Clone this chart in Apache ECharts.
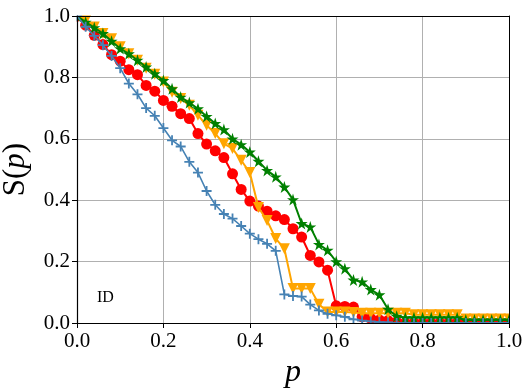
<!DOCTYPE html>
<html>
<head>
<meta charset="utf-8">
<script src="https://cdn.jsdelivr.net/npm/echarts@6.0.0/dist/echarts.min.js"></script>
<style>
  html, body { margin: 0; padding: 0; background: #fff; }
  #main { width: 531px; height: 391px; }
</style>
</head>
<body>
<div id="main"></div>
<script>
// p values (x axis)
var pVals = [0.00, 0.02, 0.04, 0.06, 0.08, 0.10, 0.12, 0.14, 0.16, 0.18,
             0.20, 0.22, 0.24, 0.26, 0.28, 0.30, 0.32, 0.34, 0.36, 0.38,
             0.40, 0.42, 0.44, 0.46, 0.48, 0.50, 0.52, 0.54, 0.56, 0.58,
             0.60, 0.62, 0.64, 0.66, 0.68, 0.70, 0.72, 0.74, 0.76, 0.78,
             0.80, 0.82, 0.84, 0.86, 0.88, 0.90, 0.92, 0.94, 0.96, 0.98, 1.00];

// S(p) for each curve
var blueS = [1.0, 0.965, 0.935, 0.905, 0.87, 0.83, 0.78, 0.745, 0.70, 0.675,
             0.635, 0.595, 0.575, 0.525, 0.49, 0.43, 0.385, 0.355, 0.34, 0.316,
             0.291, 0.273, 0.258, 0.235, 0.093, 0.088, 0.086, 0.06, 0.041, 0.03,
             0.025, 0.02, 0.012, 0.008, 0.005, 0.003, 0.002, 0, 0, 0,
             0, 0, 0, 0, 0, 0, 0, 0, 0, 0, 0];
var redS = [1.0, 0.97, 0.937, 0.907, 0.874, 0.853, 0.825, 0.809, 0.774, 0.755,
            0.725, 0.706, 0.682, 0.666, 0.617, 0.583, 0.561, 0.539, 0.486, 0.435,
            0.397, 0.381, 0.364, 0.349, 0.337, 0.307, 0.28, 0.22, 0.199, 0.172,
            0.056, 0.054, 0.052, 0.02, 0.015, 0.01, 0.008, 0.004, 0, 0,
            0, 0, 0, 0, 0, 0, 0, 0, 0, 0, 0];
var orangeS = [1.0, 0.985, 0.964, 0.943, 0.926, 0.9, 0.877, 0.856, 0.83, 0.81,
               0.785, 0.752, 0.731, 0.709, 0.677, 0.644, 0.617, 0.584, 0.568, 0.53,
               0.49, 0.376, 0.334, 0.275, 0.242, 0.112, 0.112, 0.112, 0.061, 0.036,
               0.036, 0.036, 0.034, 0.032, 0.032, 0.032, 0.032, 0.032, 0.032, 0.027,
               0.027, 0.027, 0.027, 0.027, 0.027, 0.013, 0.013, 0.013, 0.013, 0.013, 0.013];
var greenS = [1.0, 0.98, 0.962, 0.943, 0.918, 0.894, 0.877, 0.856, 0.834, 0.812,
              0.79, 0.763, 0.736, 0.718, 0.698, 0.673, 0.65, 0.63, 0.60, 0.581,
              0.557, 0.527, 0.497, 0.476, 0.443, 0.402, 0.324, 0.313, 0.256, 0.237,
              0.2, 0.177, 0.14, 0.134, 0.109, 0.092, 0.045, 0.022, 0.017, 0.017,
              0.017, 0.017, 0.017, 0.017, 0.017, 0.01, 0.01, 0.01, 0.01, 0.01, 0.01];

var serif = "'Liberation Serif', 'DejaVu Serif', serif";

// marker shapes
var plusPath = 'path://M4.1,0H5.9V4.1H10V5.9H5.9V10H4.1V5.9H0V4.1H4.1Z';
var starPath = 'path://M100,0L122.5,69.1L195.1,69.1L136.3,111.8L158.8,180.9L100,138.2L41.2,180.9L63.7,111.8L4.9,69.1L77.5,69.1Z';

// plot box in pixels (markers get clipped to it, like matplotlib)
var L = 77, R = 22, T = 16, B = 68;
var W = 531, H = 391;

function pairs(ys) {
    var out = [];
    for (var i = 0; i < pVals.length; i++) {
        out.push([pVals[i], ys[i]]);
    }
    return out;
}

function lineSeries(name, ys, color, symbol, size, width, rotate, z) {
    return {
        name: name,
        type: 'line',
        data: pairs(ys),
        symbol: symbol,
        symbolSize: size,
        symbolRotate: rotate || 0,
        showSymbol: true,
        z: z,
        animation: false,
        lineStyle: { color: color, width: width },
        itemStyle: { color: color, borderWidth: 0 }
    };
}

function tickFmt(v) { return v.toFixed(1); }

function build() {
    var myChart = echarts.init(document.getElementById('main'));

    var lineBlack = { show: true, onZero: false, lineStyle: { color: '#000', width: 1.2 } };
    var tickOut = { show: true, inside: false, length: 5, lineStyle: { color: '#000', width: 1 } };
    var labelStyle = { fontFamily: serif, fontSize: 21, color: '#000', formatter: tickFmt };

    var option = {
        backgroundColor: '#fff',
        animation: false,
        grid: { left: L, right: R, top: T, bottom: B, outerBoundsMode: 'none', containLabel: false },
        xAxis: [
            // grid lines only, below the data
            {
                type: 'value', min: 0, max: 1, interval: 0.2, z: 0,
                axisLine: { show: false }, axisTick: { show: false }, axisLabel: { show: false },
                splitLine: { show: true, lineStyle: { color: '#b0b0b0', width: 1 } }
            },
            // visible bottom axis, drawn over the clipping frame
            {
                type: 'value', min: 0, max: 1, interval: 0.2, z: 10, position: 'bottom',
                name: 'p', nameLocation: 'middle', nameGap: 31,
                nameTextStyle: { fontFamily: serif, fontStyle: 'italic', fontSize: 32, color: '#000' },
                axisLine: lineBlack, axisTick: tickOut,
                axisLabel: echarts.util.extend({ margin: 8 }, labelStyle),
                splitLine: { show: false }
            },
            // top spine
            {
                type: 'value', min: 0, max: 1, z: 10, position: 'top',
                axisLine: { show: true, onZero: false, lineStyle: { color: '#000', width: 1 } },
                axisTick: { show: false }, axisLabel: { show: false }, splitLine: { show: false }
            }
        ],
        yAxis: [
            {
                type: 'value', min: 0, max: 1, interval: 0.2, z: 0,
                axisLine: { show: false }, axisTick: { show: false }, axisLabel: { show: false },
                splitLine: { show: true, lineStyle: { color: '#b0b0b0', width: 1 } }
            },
            {
                type: 'value', min: 0, max: 1, interval: 0.2, z: 10, position: 'left',
                name: '{n|S(}{i|p}{n|)}', nameLocation: 'middle', nameGap: 46,
                nameTextStyle: {
                    rich: {
                        n: { fontFamily: serif, fontSize: 31, color: '#000' },
                        i: { fontFamily: serif, fontSize: 31, fontStyle: 'italic', color: '#000' }
                    }
                },
                axisLine: lineBlack, axisTick: tickOut,
                axisLabel: echarts.util.extend({ margin: 7 }, labelStyle),
                splitLine: { show: false }
            },
            // right spine
            {
                type: 'value', min: 0, max: 1, z: 10, position: 'right',
                axisLine: { show: true, onZero: false, lineStyle: { color: '#000', width: 1 } },
                axisTick: { show: false }, axisLabel: { show: false }, splitLine: { show: false }
            }
        ],
        graphic: [
            // white frame round the plot box hides marker parts outside it
            { type: 'rect', z: 6, silent: true, shape: { x: 0, y: H - B + 0.5, width: W, height: B }, style: { fill: '#fff' } },
            { type: 'rect', z: 6, silent: true, shape: { x: 0, y: 0, width: W, height: T - 0.5 }, style: { fill: '#fff' } },
            { type: 'rect', z: 6, silent: true, shape: { x: 0, y: 0, width: L - 0.5, height: H }, style: { fill: '#fff' } },
            { type: 'rect', z: 6, silent: true, shape: { x: W - R + 0.5, y: 0, width: R, height: H }, style: { fill: '#fff' } },
            {
                type: 'text', z: 7, left: 97, top: 290,
                style: { text: 'ID', fontFamily: serif, fontSize: 16, fill: '#000' }
            }
        ],
        series: [
            lineSeries('red', redS, '#ff0000', 'circle', 11, 2, 0, 2),
            lineSeries('orange', orangeS, '#ffa500', 'triangle', 11, 2, 180, 3),
            lineSeries('green', greenS, '#008000', starPath, 12, 2, 0, 4),
            lineSeries('blue', blueS, '#4682b4', plusPath, 10, 1.6, 0, 5)
        ]
    };

    myChart.setOption(option);
}

build();
</script>
</body>
</html>
